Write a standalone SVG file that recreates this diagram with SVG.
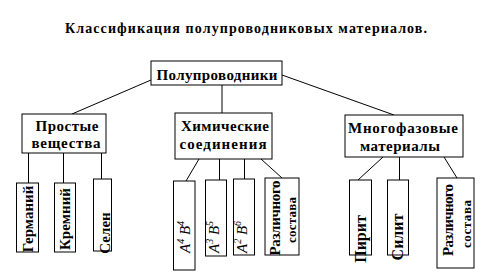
<svg xmlns="http://www.w3.org/2000/svg" width="491" height="278" viewBox="0 0 491 278">
<style>
.box{fill:#fff;stroke:#000;stroke-width:1}
.t{font-family:'Liberation Serif',serif;font-weight:bold;font-size:15px;fill:#000}
.s{font-size:13px}
.i{font-family:'Liberation Serif',serif;font-style:italic;font-size:15px;fill:#000}
.sup{font-size:10px}
#connectors line{stroke:#000;stroke-width:1}
</style>
<rect width="491" height="278" fill="#fff"/>
<text class="t" x="246" y="33" text-anchor="middle" style="font-size:14px" textLength="362" lengthAdjust="spacing">Классификация полупроводниковых материалов.</text>
<g id="connectors">
<line x1="151" y1="80" x2="72" y2="114"/>
<line x1="222" y1="85" x2="222" y2="113"/>
<line x1="282" y1="75" x2="394" y2="115"/>
<line x1="28.5" y1="153" x2="28.5" y2="183"/>
<line x1="63.5" y1="153" x2="63.5" y2="183"/>
<line x1="101.5" y1="153" x2="101.5" y2="179"/>
<line x1="199" y1="159" x2="186" y2="181"/>
<line x1="219.5" y1="159" x2="219.5" y2="180"/>
<line x1="244.5" y1="159" x2="244.5" y2="179"/>
<line x1="261" y1="159" x2="282" y2="178"/>
<line x1="383" y1="157" x2="358" y2="180"/>
<line x1="399.5" y1="157" x2="399.5" y2="180"/>
<line x1="444" y1="157" x2="457" y2="178"/>
</g>
<g id="root"><rect class="box" x="151" y="61" width="131" height="24"/><text class="t" x="217" y="80" text-anchor="middle" textLength="121" lengthAdjust="spacing">Полупроводники</text></g>
<g id="simple"><rect class="box" x="22" y="114" width="84" height="39"/><text class="t" x="67" y="131" text-anchor="middle" textLength="63" lengthAdjust="spacing">Простые</text><text class="t" x="66" y="148" text-anchor="middle" textLength="69" lengthAdjust="spacing">вещества</text></g>
<g id="chem"><rect class="box" x="175" y="113" width="97" height="46"/><text class="t" x="225" y="131" text-anchor="middle" textLength="88" lengthAdjust="spacing">Химические</text><text class="t" x="223" y="149" text-anchor="middle" textLength="87" lengthAdjust="spacing">соединения</text></g>
<g id="multi"><rect class="box" x="345" y="115" width="118" height="42"/><text class="t" x="403" y="133" text-anchor="middle" textLength="110" lengthAdjust="spacing">Многофазовые</text><text class="t" x="400" y="151" text-anchor="middle" textLength="80" lengthAdjust="spacing">материалы</text></g>
<g id="ge"><rect class="box" x="16.5" y="183" width="22" height="69"/><text class="t" transform="translate(33,219) rotate(-90)" text-anchor="middle">Германий</text></g>
<g id="si"><rect class="box" x="54.5" y="183" width="21" height="69"/><text class="t" transform="translate(70,219) rotate(-90)" text-anchor="middle">Кремний</text></g>
<g id="se"><rect class="box" x="93.5" y="179" width="18" height="72"/><text class="t" transform="translate(110,233) rotate(-90)" text-anchor="middle">Селен</text></g>
<g id="a4b4"><rect class="box" x="173.5" y="181" width="21.5" height="89"/><text class="i" transform="translate(190,253) rotate(-90)">A<tspan class="sup" dy="-6">4</tspan><tspan dy="6"> B</tspan><tspan class="sup" dy="-6">4</tspan></text></g>
<g id="a3b5"><rect class="box" x="205.5" y="180" width="21" height="76"/><text class="i" transform="translate(219,253) rotate(-90)">A<tspan class="sup" dy="-6">3</tspan><tspan dy="6"> B</tspan><tspan class="sup" dy="-6">5</tspan></text></g>
<g id="a2b6"><rect class="box" x="233.5" y="179" width="21" height="76"/><text class="i" transform="translate(247,253) rotate(-90)">A<tspan class="sup" dy="-6">2</tspan><tspan dy="6"> B</tspan><tspan class="sup" dy="-6">6</tspan></text></g>
<g id="mix1"><rect class="box" x="265" y="178" width="34" height="77"/><text class="t" transform="translate(280,218) rotate(-90)" text-anchor="middle" textLength="75" lengthAdjust="spacing">Различного</text><text class="t s" transform="translate(296,220) rotate(-90)" text-anchor="middle" textLength="46" lengthAdjust="spacing">состава</text></g>
<g id="pyrite"><rect class="box" x="349.5" y="180" width="22" height="75"/><text class="t" style="font-size:16px" transform="translate(366,239) rotate(-90)" text-anchor="middle">Пирит</text></g>
<g id="silit"><rect class="box" x="387.5" y="180" width="21" height="75"/><text class="t" style="font-size:16px" transform="translate(403,237) rotate(-90)" text-anchor="middle">Силит</text></g>
<g id="mix2"><rect class="box" x="437" y="178" width="37" height="90"/><text class="t" transform="translate(453,220) rotate(-90)" text-anchor="middle" textLength="72" lengthAdjust="spacing">Различного</text><text class="t s" transform="translate(471,224) rotate(-90)" text-anchor="middle" textLength="48" lengthAdjust="spacing">состава</text></g>
</svg>
